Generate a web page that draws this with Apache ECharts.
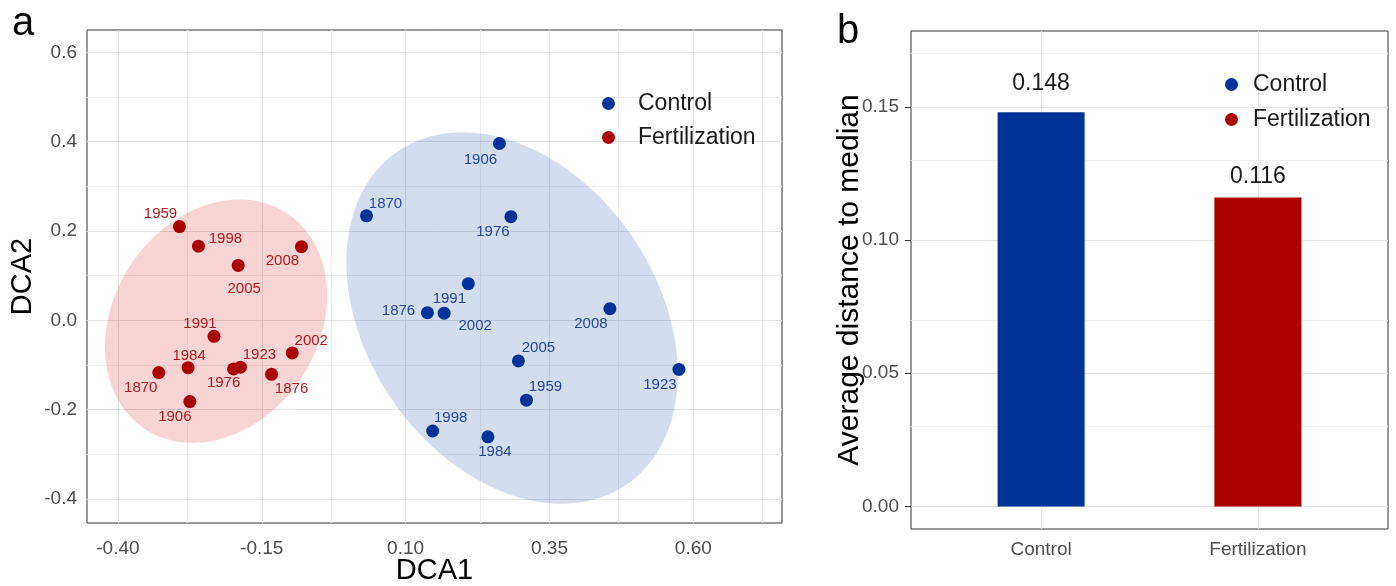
<!DOCTYPE html>
<html>
<head>
<meta charset="utf-8">
<script src="https://cdn.jsdelivr.net/npm/echarts@6/dist/echarts.min.js"></script>
<style>html,body{margin:0;padding:0;background:#fff}#c{width:1396px;height:586px}</style>
</head>
<body>
<div id="c"></div>
<script>
// ---- Panel a data (DCA scores) ----
const ctrlYears = ['1906','1870','1976','1991','1876','2002','2008','2005','1923','1959','1998','1984'];
const ctrlX = [0.263, 0.032, 0.283, 0.209, 0.138, 0.167, 0.455, 0.296, 0.575, 0.310, 0.147, 0.243];
const ctrlY = [0.396, 0.234, 0.232, 0.082, 0.017, 0.016, 0.026, -0.091, -0.110, -0.179, -0.248, -0.261];
const fertYears = ['1959','1998','2005','2008','1991','2002','1984','1870','1976','1923','1876','1906'];
const fertX = [-0.293, -0.260, -0.191, -0.081, -0.233, -0.097, -0.278, -0.329, -0.199, -0.187, -0.133, -0.275];
const fertY = [0.210, 0.166, 0.123, 0.165, -0.036, -0.073, -0.106, -0.117, -0.109, -0.105, -0.121, -0.182];
// ellipse: [centerX, centerY, sdX, sdY, correlation]
const ctrlEllipse = [0.285, 0.005, 0.288, 0.416, -0.30];
const fertEllipse = [-0.2295, -0.002, 0.193, 0.2726, 0.21];
// ---- Panel b data ----
const groups = ['Control', 'Fertilization'];
const avgDist = [0.148, 0.116];
// ---- tick values ----
const xTicksA = [-0.40, -0.15, 0.10, 0.35, 0.60];
const xMinorA = [-0.275, -0.025, 0.225, 0.475, 0.725];
const yTicksA = [-0.4, -0.2, 0.0, 0.2, 0.4, 0.6];
const yMinorA = [-0.3, -0.1, 0.1, 0.3, 0.5];
const yTicksB = [0.00, 0.05, 0.10, 0.15];
const yMinorB = [0.025, 0.075, 0.125, 0.175];
const xTicksB = [1, 2];

// ---- label placement (pixel offsets, style only) ----
const ctrlLabelOff = [[-19,16],[19,-12],[-18,15],[-19,15],[-29,-2],[31,13],[-19,15],[20,-13],[-19,15],[19,-13],[18,-13],[7,15]];
const fertLabelOff = [[-19,-13],[27,-7],[6,23],[-19,14],[-14,-13],[19,-12],[1,-12],[-18,15],[-10,14],[19,-12],[20,15],[-15,15]];

const BLUE = '#003399', RED = '#AA0000';
const FONT = '"Liberation Sans", Arial, sans-serif';
const MAJOR = '#e3e3e3', MINOR = '#efefef';

function gridLines(xs, ys, xsMinor, ysMinor) {
  const d = [];
  xsMinor.forEach(v => d.push({xAxis: v, lineStyle: {color: MINOR, width: 1, type: 'solid'}}));
  ysMinor.forEach(v => d.push({yAxis: v, lineStyle: {color: MINOR, width: 1, type: 'solid'}}));
  xs.forEach(v => d.push({xAxis: v, lineStyle: {color: MAJOR, width: 1, type: 'solid'}}));
  ys.forEach(v => d.push({yAxis: v, lineStyle: {color: MAJOR, width: 1, type: 'solid'}}));
  return d;
}

function ellipseItem(color) {
  return function (params, api) {
    const cx = api.value(0), cy = api.value(1), sx = api.value(2), sy = api.value(3), r = api.value(4);
    const pts = [];
    const q = Math.sqrt(1 - r * r);
    for (let i = 0; i <= 180; i++) {
      const t = 2 * Math.PI * i / 180;
      pts.push(api.coord([cx + sx * Math.cos(t), cy + sy * (r * Math.cos(t) + q * Math.sin(t))]));
    }
    return {type: 'polygon', shape: {points: pts}, style: {fill: color}};
  };
}

function scatterData(xs, ys, names, offs) {
  return xs.map((x, i) => ({value: [x, ys[i]], name: names[i], label: {offset: offs[i]}}));
}

const tickLabel = {color: '#4d4d4d', fontSize: 19, fontFamily: FONT};
const tickStyle = {show: true, length: 6, lineStyle: {color: '#333', width: 1}};

const chart = echarts.init(document.getElementById('c'), null, {renderer: 'canvas'});
chart.setOption({
  animation: false,
  backgroundColor: '#fff',
  textStyle: {fontFamily: FONT},
  graphic: [
    {type: 'text', left: 12, top: 4, style: {text: 'a', fontSize: 40, fill: '#000', fontFamily: FONT}},
    {type: 'text', left: 837, top: 12, style: {text: 'b', fontSize: 40, fill: '#000', fontFamily: FONT}}
  ],
  grid: [
    {left: 87, top: 30, width: 695, height: 493, show: true, borderColor: '#333', borderWidth: 1, backgroundColor: '#fff', containLabel: false, outerBoundsMode: 'none'},
    {left: 911, top: 31, width: 477, height: 498, show: true, borderColor: '#333', borderWidth: 1, backgroundColor: '#fff', containLabel: false, outerBoundsMode: 'none'}
  ],
  legend: [
    {data: groups, orient: 'vertical', left: 602, top: 92, padding: 0, itemWidth: 49, itemHeight: 13, itemGap: 11,
     icon: 'circle', textStyle: {fontSize: 23, color: '#1a1a1a', fontFamily: FONT}, selectedMode: false},
    {data: groups, orient: 'vertical', left: 1225, top: 73, padding: 0, itemWidth: 33, itemHeight: 13, itemGap: 12,
     icon: 'circle', textStyle: {fontSize: 23, color: '#1a1a1a', fontFamily: FONT}, selectedMode: false}
  ],
  xAxis: [
    {type: 'value', gridIndex: 0, min: -0.4537, max: 0.7541,
     axisLine: {show: false}, splitLine: {show: false},
     axisTick: Object.assign({customValues: xTicksA}, tickStyle),
     axisLabel: Object.assign({customValues: xTicksA, margin: 16, formatter: v => v.toFixed(2)}, tickLabel),
     name: 'DCA1', nameLocation: 'middle', nameGap: 33, nameMoveOverlap: false,
     nameTextStyle: {fontSize: 29, color: '#000', fontFamily: FONT}},
    {type: 'value', gridIndex: 1, min: 0.4, max: 2.6,
     axisLine: {show: false}, splitLine: {show: false},
     axisTick: Object.assign({customValues: xTicksB}, tickStyle),
     axisLabel: Object.assign({customValues: xTicksB, margin: 11, formatter: v => groups[Math.round(v) - 1]}, tickLabel)}
  ],
  yAxis: [
    {type: 'value', gridIndex: 0, min: -0.4540, max: 0.6502,
     axisLine: {show: false}, splitLine: {show: false},
     axisTick: Object.assign({customValues: yTicksA}, tickStyle),
     axisLabel: Object.assign({customValues: yTicksA, margin: 10, formatter: v => v.toFixed(1)}, tickLabel),
     name: 'DCA2', nameLocation: 'middle', nameGap: 50, nameMoveOverlap: false,
     nameTextStyle: {fontSize: 29, color: '#000', fontFamily: FONT}},
    {type: 'value', gridIndex: 1, min: -0.00848, max: 0.1785,
     axisLine: {show: false}, splitLine: {show: false},
     axisTick: Object.assign({customValues: yTicksB}, tickStyle),
     axisLabel: Object.assign({customValues: yTicksB, margin: 12, formatter: v => v.toFixed(2)}, tickLabel),
     name: 'Average distance to median', nameLocation: 'middle', nameGap: 46, nameMoveOverlap: false,
     nameTextStyle: {fontSize: 30, color: '#000', fontFamily: FONT}}
  ],
  series: [
    {type: 'scatter', name: 'gridA', xAxisIndex: 0, yAxisIndex: 0, data: [], z: 1, silent: true,
     markLine: {z: 1, silent: true, symbol: ['none', 'none'], label: {show: false}, animation: false, data: gridLines(xTicksA, yTicksA, xMinorA, yMinorA)}},
    {type: 'scatter', name: 'gridB', xAxisIndex: 1, yAxisIndex: 1, data: [], z: 1, silent: true,
     markLine: {z: 1, silent: true, symbol: ['none', 'none'], label: {show: false}, animation: false, data: gridLines(xTicksB, yTicksB, [], yMinorB)}},
    {type: 'custom', name: 'ellipseControl', xAxisIndex: 0, yAxisIndex: 0, z: 2, silent: true,
     renderItem: ellipseItem('rgba(0,51,153,0.17)'), data: [ctrlEllipse]},
    {type: 'custom', name: 'ellipseFert', xAxisIndex: 0, yAxisIndex: 0, z: 2, silent: true,
     renderItem: ellipseItem('rgba(220,0,0,0.17)'), data: [fertEllipse]},
    {type: 'scatter', name: 'Control', xAxisIndex: 0, yAxisIndex: 0, z: 3, symbolSize: 13,
     itemStyle: {color: BLUE, opacity: 1},
     label: {show: true, position: 'inside', formatter: '{b}', color: '#23489c', fontSize: 15, fontFamily: FONT, textBorderWidth: 0},
     data: scatterData(ctrlX, ctrlY, ctrlYears, ctrlLabelOff)},
    {type: 'scatter', name: 'Fertilization', xAxisIndex: 0, yAxisIndex: 0, z: 3, symbolSize: 13,
     itemStyle: {color: RED, opacity: 1},
     label: {show: true, position: 'inside', formatter: '{b}', color: '#ad1c1c', fontSize: 15, fontFamily: FONT, textBorderWidth: 0},
     data: scatterData(fertX, fertY, fertYears, fertLabelOff)},
    {type: 'bar', name: 'Control', xAxisIndex: 1, yAxisIndex: 1, z: 3, barWidth: 87, barGap: '-100%',
     itemStyle: {color: BLUE},
     label: {show: true, position: 'top', distance: 17, fontSize: 23, color: '#1a1a1a', fontFamily: FONT, formatter: p => p.value[1].toFixed(3)},
     data: [[xTicksB[0], avgDist[0]]]},
    {type: 'bar', name: 'Fertilization', xAxisIndex: 1, yAxisIndex: 1, z: 3, barWidth: 87, barGap: '-100%',
     itemStyle: {color: RED},
     label: {show: true, position: 'top', distance: 9, fontSize: 23, color: '#1a1a1a', fontFamily: FONT, formatter: p => p.value[1].toFixed(3)},
     data: [[xTicksB[1], avgDist[1]]]}
  ]
});
</script>
</body>
</html>
